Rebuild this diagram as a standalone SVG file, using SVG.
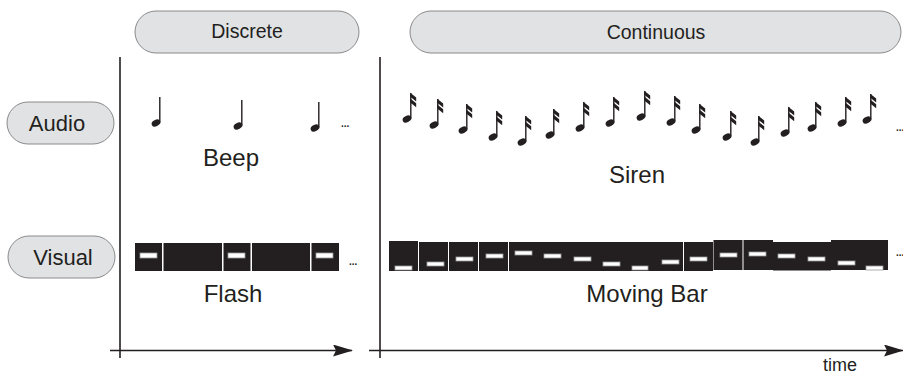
<svg xmlns="http://www.w3.org/2000/svg" xmlns:xlink="http://www.w3.org/1999/xlink" width="903" height="376" viewBox="0 0 903 376">
  <style>
    .pill { fill: #e1e2e4; stroke: #8a8a8c; stroke-width: 1; }
    .hdr { font-family: "Liberation Sans", Arial, sans-serif; font-size: 19.5px; fill: #231f20; text-anchor: middle; }
    .row { font-family: "Liberation Sans", Arial, sans-serif; font-size: 22px; fill: #231f20; text-anchor: middle; }
    .lbl { font-family: "Liberation Sans", Arial, sans-serif; font-size: 24px; fill: #231f20; text-anchor: middle; }
    .time { font-family: "Liberation Sans", Arial, sans-serif; font-size: 18px; fill: #231f20; text-anchor: middle; }
    .dots { font-family: "Liberation Sans", Arial, sans-serif; font-size: 10px; font-weight: bold; fill: #231f20; }
    .axis { stroke: #231f20; stroke-width: 1.6; fill: none; }
    .blk { fill: #231f20; }
    .dash { fill: #ffffff; stroke: #9a9a9a; stroke-width: 0.8; }
  </style>
  <defs>
    <!-- quarter note, head centred on origin -->
    <g id="quarter">
      <ellipse cx="0" cy="0" rx="4.6" ry="3.2" transform="rotate(-28)" fill="#231f20"/>
      <line x1="3.8" y1="-0.5" x2="3.8" y2="-26" stroke="#231f20" stroke-width="1.4"/>
    </g>
    <!-- sixteenth note: quarter note plus two flags -->
    <g id="sixteenth">
      <use xlink:href="#quarter"/>
      <polygon points="3.2,-26.2 9.2,-21.5 9.2,-17.6 3.2,-22.3" fill="#231f20"/>
      <polygon points="3.2,-20.4 9.2,-15.7 9.2,-11.8 3.2,-16.5" fill="#231f20"/>
    </g>
    <marker id="arrow" viewBox="0 0 20 12" refX="19" refY="6" markerWidth="20" markerHeight="12" markerUnits="userSpaceOnUse" orient="auto">
      <path d="M0,0 L20,6 L0,12 L3,6 Z" fill="#231f20"/>
    </marker>
  </defs>

  <rect width="903" height="376" fill="#ffffff"/>

  <!-- column and row headers -->
  <g id="discrete">
    <rect class="pill" x="135" y="11" width="224" height="42" rx="21"/>
    <text class="hdr" x="247" y="37.5">Discrete</text>
  </g>
  <g id="continuous">
    <rect class="pill" x="410" y="11" width="491" height="42" rx="21"/>
    <text class="hdr" x="656" y="38.5">Continuous</text>
  </g>
  <g id="audio">
    <rect class="pill" x="7" y="102" width="107" height="42" rx="21"/>
    <text class="row" x="57" y="131">Audio</text>
  </g>
  <g id="visual">
    <rect class="pill" x="8" y="236" width="107" height="42" rx="21"/>
    <text class="row" x="63" y="265">Visual</text>
  </g>

  <!-- axes -->
  <g id="connectors">
    <line class="axis" x1="120" y1="57" x2="120" y2="358"/>
    <line class="axis" x1="380" y1="57" x2="380" y2="358"/>
    <line class="axis" x1="110" y1="350.5" x2="352" y2="350.5" marker-end="url(#arrow)"/>
    <line class="axis" x1="369" y1="350.5" x2="903" y2="350.5" marker-end="url(#arrow)"/>
  </g>

  <!-- discrete audio: beep -->
  <g id="beep">
    <use xlink:href="#quarter" x="156" y="123"/>
    <use xlink:href="#quarter" x="238" y="126"/>
    <use xlink:href="#quarter" x="315" y="128"/>
    <text class="dots" x="341" y="127">...</text>
    <text class="lbl" x="231" y="166">Beep</text>
  </g>

  <!-- continuous audio: siren -->
  <g id="siren">
    <use xlink:href="#sixteenth" x="407" y="119"/>
    <use xlink:href="#sixteenth" x="434" y="125"/>
    <use xlink:href="#sixteenth" x="463" y="130"/>
    <use xlink:href="#sixteenth" x="493" y="137"/>
    <use xlink:href="#sixteenth" x="522" y="142"/>
    <use xlink:href="#sixteenth" x="550" y="135"/>
    <use xlink:href="#sixteenth" x="580" y="128"/>
    <use xlink:href="#sixteenth" x="610" y="123"/>
    <use xlink:href="#sixteenth" x="641" y="117"/>
    <use xlink:href="#sixteenth" x="671" y="122"/>
    <use xlink:href="#sixteenth" x="696" y="130"/>
    <use xlink:href="#sixteenth" x="727" y="137"/>
    <use xlink:href="#sixteenth" x="755" y="142"/>
    <use xlink:href="#sixteenth" x="785" y="133"/>
    <use xlink:href="#sixteenth" x="812" y="128"/>
    <use xlink:href="#sixteenth" x="842" y="123"/>
    <use xlink:href="#sixteenth" x="867" y="120"/>
    <text class="dots" x="896" y="131">...</text>
    <text class="lbl" x="637" y="183">Siren</text>
  </g>

  <!-- discrete visual: flash -->
  <g id="flash">
    <rect class="blk" x="135" y="243" width="27" height="28"/>
    <rect class="blk" x="163.5" y="243" width="58.5" height="28"/>
    <rect class="blk" x="223.5" y="243" width="27" height="28"/>
    <rect class="blk" x="252" y="243" width="58" height="28"/>
    <rect class="blk" x="311.5" y="243" width="27.5" height="28"/>
    <rect class="dash" x="140" y="253" width="17" height="5"/>
    <rect class="dash" x="228" y="253" width="17" height="5"/>
    <rect class="dash" x="316" y="253" width="17" height="5"/>
    <text class="dots" x="349" y="265">...</text>
    <text class="lbl" x="233" y="302">Flash</text>
  </g>

  <!-- continuous visual: moving bar -->
  <g id="moving-bar">
    <rect class="blk" x="389" y="241" width="29" height="30"/>
    <rect class="blk" x="419" y="242" width="29" height="29"/>
    <rect class="blk" x="449" y="242" width="29" height="29"/>
    <rect class="blk" x="479" y="242" width="29" height="29"/>
    <rect class="blk" x="509" y="242" width="174" height="29"/>
    <rect class="blk" x="684" y="242" width="29" height="29"/>
    <rect class="blk" x="713.5" y="240" width="29" height="30"/>
    <rect class="blk" x="743.5" y="240" width="29.5" height="30"/>
    <rect class="blk" x="773" y="242" width="58" height="28.5"/>
    <rect class="blk" x="831" y="240" width="57" height="30"/>
    <rect class="dash" x="395" y="266" width="17" height="4"/>
    <rect class="dash" x="427" y="262" width="17" height="4"/>
    <rect class="dash" x="456" y="257" width="17" height="4"/>
    <rect class="dash" x="486" y="254" width="17" height="4"/>
    <rect class="dash" x="515" y="251" width="17" height="4"/>
    <rect class="dash" x="544" y="254" width="17" height="4"/>
    <rect class="dash" x="574" y="257" width="17" height="4"/>
    <rect class="dash" x="603" y="262" width="17" height="4"/>
    <rect class="dash" x="632" y="266" width="16" height="4"/>
    <rect class="dash" x="662" y="260" width="17" height="4"/>
    <rect class="dash" x="690" y="257" width="17" height="4"/>
    <rect class="dash" x="720" y="253" width="17" height="4"/>
    <rect class="dash" x="749" y="252" width="17" height="4"/>
    <rect class="dash" x="778" y="254" width="17" height="4"/>
    <rect class="dash" x="808" y="257" width="17" height="4"/>
    <rect class="dash" x="838" y="261" width="17" height="4"/>
    <rect class="dash" x="866" y="266" width="17" height="4"/>
    <text class="dots" x="896" y="256">...</text>
    <text class="lbl" x="647" y="302">Moving Bar</text>
  </g>

  <text class="time" x="840" y="371">time</text>
</svg>
